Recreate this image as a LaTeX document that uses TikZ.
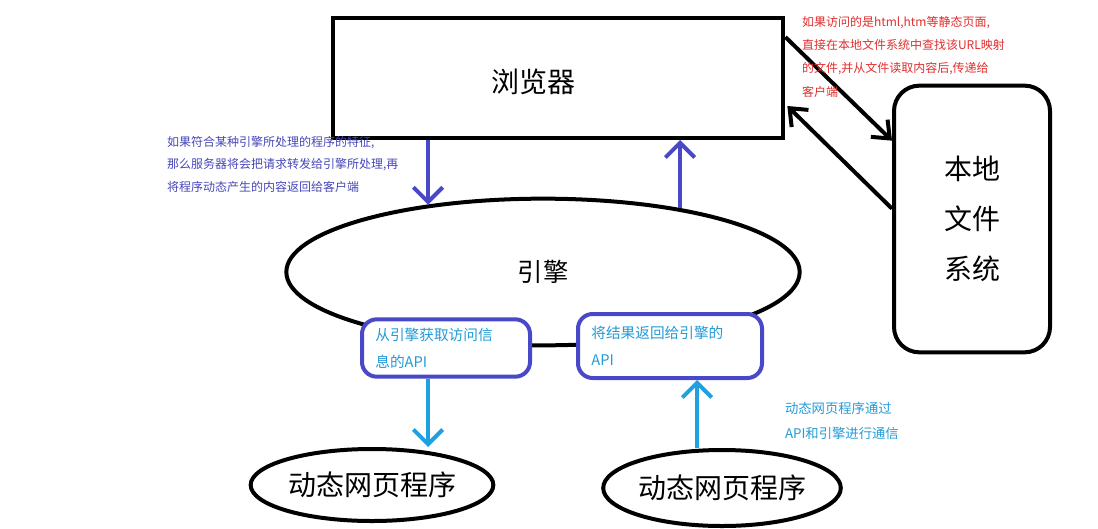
\documentclass[tikz,border=0pt]{standalone}
\usepackage{fontspec}
\setmainfont{Noto Sans CJK SC}
\usetikzlibrary{arrows.meta,shapes.geometric,calc}

\definecolor{notered}{RGB}{225,45,45}
\definecolor{noteblue}{RGB}{70,70,185}
\definecolor{notecyan}{RGB}{35,155,215}
\definecolor{apiblue}{RGB}{72,72,200}
\definecolor{linkcyan}{RGB}{30,160,225}

\begin{document}
\begin{tikzpicture}[
    x=0.75pt, y=-0.75pt,
    line width=3pt,
    bigtext/.style={font=\fontsize{21pt}{25pt}\selectfont},
    smalltext/.style={font=\fontsize{9pt}{17.5pt}\selectfont, align=left, inner sep=0pt},
    apibox/.style={draw=apiblue, fill=white, rounded corners=11pt, align=left,
        text=notecyan, font=\fontsize{11pt}{20pt}\selectfont, inner xsep=10pt},
    blackarrow/.style={-{Straight Barb[length=11pt,width=18pt,line width=3pt]}},
    bluearrow/.style={draw=apiblue, -{Straight Barb[length=11pt,width=22pt,line width=3pt]}},
    cyanarrow/.style={draw=linkcyan, -{Straight Barb[length=11pt,width=22pt,line width=3pt]}}
]
\useasboundingbox (0,0) rectangle (1098,528);

% Browser
\node[draw, minimum width=338pt, minimum height=90pt, inner sep=0pt] (browser) at (558,78) {};
\node[bigtext] (browsertext) at (533,82) {浏览器};

% Local file system
\node[draw, rounded corners=19pt, minimum width=117pt, minimum height=200pt,
      bigtext, align=center, font=\fontsize{21pt}{37.5pt}\selectfont] (localfs) at (972,219)
      {本地\\文件\\系统};

% Engine
\node[draw, ellipse, minimum width=385pt, minimum height=110pt, inner sep=0pt,
      font=\fontsize{19pt}{23pt}\selectfont] (engine) at (543,272) {引擎};

% API boxes on the engine
\node[apibox, text width=106pt, minimum height=43pt] (getapi) at (446,348)
    {从引擎获取访问信\\息的API};
\node[apibox, text width=118pt, minimum height=48pt] (putapi) at (670,346)
    {将结果返回给引擎的\\API};

% Dynamic page programs
\node[draw, ellipse, minimum width=182pt, minimum height=54pt, inner sep=0pt, bigtext]
    (prog1) at (372,485) {动态网页程序};
\node[draw, ellipse, minimum width=170pt, minimum height=57pt, inner sep=0pt, bigtext]
    (prog2) at (722,488) {动态网页程序};

% Arrow positions
\coordinate (reqx) at (428,0);
\coordinate (respx) at (680,0);
\coordinate (upx) at (697,0);

% Browser <-> engine
\draw[bluearrow] (browser.south -| reqx) -- (engine.150 -| reqx);
\draw[bluearrow] (engine.25 -| respx) -- (browser.south -| respx);

% Engine <-> programs
\draw[cyanarrow] (getapi.south -| reqx) -- (prog1.north -| reqx);
\draw[cyanarrow] (prog2.north -| upx) -- (putapi.south -| upx);

% Browser <-> local file system
\draw[blackarrow] ($(browser.north east)+(0,21)$) -- ($(localfs.north west)+(0,57)$);
\draw[blackarrow] ($(localfs.north west)+(0,125)$) -- ($(browser.north east)+(2,90)$);

% Notes
\node[smalltext, text=notered, anchor=north west] (staticnote) at (800,14)
    {如果访问的是html,htm等静态页面,\\直接在本地文件系统中查找该URL映射\\的文件,并从文件读取内容后,传递给\\客户端};
\node[smalltext, text=noteblue, anchor=north west,
      font=\fontsize{9pt}{17pt}\selectfont] (dynnote) at (165,134)
    {如果符合某种引擎所处理的程序的特征,\\那么服务器将会把请求转发给引擎所处理,再\\将程序动态产生的内容返回给客户端};
\node[smalltext, text=notecyan, anchor=north west,
      font=\fontsize{10pt}{19pt}\selectfont] (apinote) at (783,400)
    {动态网页程序通过\\API和引擎进行通信};

\end{tikzpicture}
\end{document}
